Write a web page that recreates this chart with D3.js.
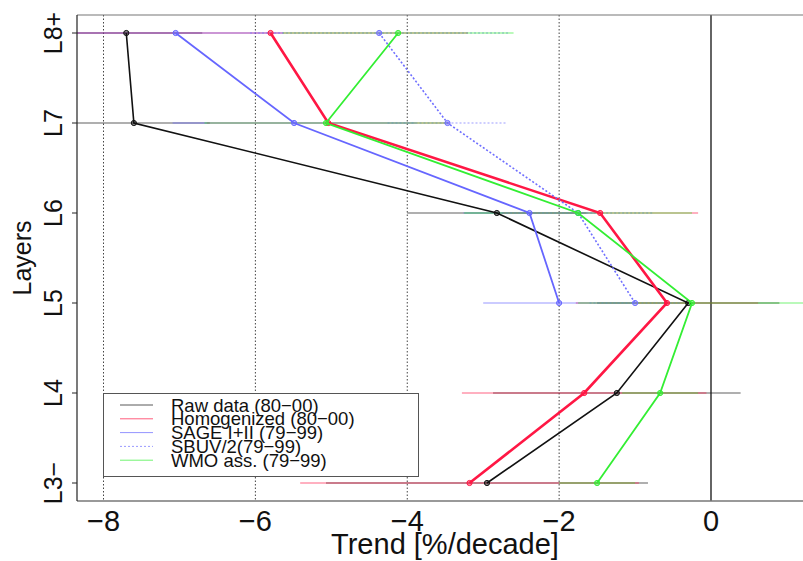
<!DOCTYPE html>
<html>
<head>
<meta charset="utf-8">
<script src="https://cdn.jsdelivr.net/npm/d3@7"></script>
<style>
  body { margin: 0; background: #fff; }
  text { font-family: "Liberation Sans", Arial, sans-serif; }
</style>
</head>
<body>
<div id="chart"></div>
<script>
// layers from top to bottom
const layers = ["L8+", "L7", "L6", "L5", "L4", "L3\u2212"];
const xTicks = [-8, -6, -4, -2, 0];

// trends [%/decade] per layer, and half-width of the error bar
const rawData = [-7.70, -7.60, -2.82, -0.30, -1.24, -2.95];
const rawErr = [1.0, 1.0, 1.18, 1.2, 1.63, 2.12];
const homog = [-5.80, -5.04, -1.46, -0.58, -1.67, -3.18];
const homogErr = [2.6, 1.6, 1.29, 1.2, 1.61, 2.23];
const sage = [-7.05, -5.49, -2.39, -2.00, null, null];
const sageErr = [1.42, 1.6, 0.87, 1.0, null, null];
const sbuv = [-4.37, -3.47, -1.75, -1.00, null, null];
const sbuvErr = [1.7, 0.79, 1.0, 0.6, null, null];
const wmo = [-4.12, -5.07, -1.75, -0.25, -0.67, -1.50];
const wmoErr = [1.52, 1.6, 1.5, 1.5, 0.5, 0.5];

const series = [
  {name: "Raw data (80\u221200)", vals: rawData, err: rawErr, color: "#111111", width: 1.6, dash: null},
  {name: "Homogenized (80\u221200)", vals: homog, err: homogErr, color: "#ff1744", width: 2.6, dash: null},
  {name: "SAGE I+II (79\u221299)", vals: sage, err: sageErr, color: "#6666ff", width: 1.8, dash: null},
  {name: "SBUV/2(79\u221299)", vals: sbuv, err: sbuvErr, color: "#6f6fff", width: 1.6, dash: "2,2"},
  {name: "WMO ass. (79\u221299)", vals: wmo, err: wmoErr, color: "#33ee33", width: 1.8, dash: null}
];

const width = 803, height = 561;
const plotLeft = 77, plotTop = 15, plotBottom = 501, plotRight = 830;

const svg = d3.select("#chart").append("svg")
  .attr("width", width)
  .attr("height", height);

const x = d3.scaleLinear().domain([-8, 0]).range([103.5, 711]);
const y = d3.scalePoint().domain(layers).range([33, 483]);

svg.append("clipPath").attr("id", "clip")
  .append("rect")
  .attr("x", plotLeft).attr("y", plotTop)
  .attr("width", plotRight - plotLeft).attr("height", plotBottom - plotTop);

// grid lines
svg.append("g")
  .selectAll("line")
  .data(xTicks)
  .join("line")
    .attr("x1", d => x(d)).attr("x2", d => x(d))
    .attr("y1", plotTop).attr("y2", plotBottom)
    .attr("stroke", d => d === 0 ? "#111" : "#444")
    .attr("stroke-width", d => d === 0 ? 1.3 : 1)
    .attr("stroke-dasharray", d => d === 0 ? null : "1.5,2");

const plot = svg.append("g").attr("clip-path", "url(#clip)");

// error bars
series.forEach(s => {
  const bars = s.vals.map((v, i) => ({v: v, e: s.err[i], layer: layers[i]}))
    .filter(d => d.v !== null);
  plot.append("g")
    .selectAll("line")
    .data(bars)
    .join("line")
      .attr("x1", d => x(d.v - d.e)).attr("x2", d => x(d.v + d.e))
      .attr("y1", d => y(d.layer)).attr("y2", d => y(d.layer))
      .attr("stroke", s.color)
      .attr("stroke-opacity", 0.45)
      .attr("stroke-width", 1.3)
      .attr("stroke-dasharray", s.dash);
});

// profiles
const line = d3.line()
  .defined(d => d.v !== null)
  .x(d => x(d.v))
  .y(d => y(d.layer));

series.forEach(s => {
  const pts = s.vals.map((v, i) => ({v: v, layer: layers[i]}));
  plot.append("path")
    .datum(pts)
    .attr("fill", "none")
    .attr("stroke", s.color)
    .attr("stroke-width", s.width)
    .attr("stroke-dasharray", s.dash)
    .attr("d", line);
  plot.append("g")
    .selectAll("circle")
    .data(pts.filter(d => d.v !== null))
    .join("circle")
      .attr("cx", d => x(d.v))
      .attr("cy", d => y(d.layer))
      .attr("r", 2.6)
      .attr("fill", s.color)
      .attr("fill-opacity", 0.5)
      .attr("stroke", s.color)
      .attr("stroke-width", 1);
});

// frame
svg.append("line")
  .attr("x1", plotLeft).attr("x2", width).attr("y1", plotTop).attr("y2", plotTop)
  .attr("stroke", "#777").attr("stroke-width", 1.2);
svg.append("line")
  .attr("x1", plotLeft).attr("x2", width).attr("y1", plotBottom).attr("y2", plotBottom)
  .attr("stroke", "#777").attr("stroke-width", 1.5);
svg.append("line")
  .attr("x1", plotLeft).attr("x2", plotLeft).attr("y1", plotTop).attr("y2", plotBottom)
  .attr("stroke", "#222").attr("stroke-width", 1.2);

// y axis ticks and labels
const yAxis = svg.append("g");
yAxis.selectAll("line")
  .data(layers)
  .join("line")
    .attr("x1", plotLeft - 5).attr("x2", plotLeft)
    .attr("y1", d => y(d)).attr("y2", d => y(d))
    .attr("stroke", "#222");
yAxis.selectAll("text")
  .data(layers)
  .join("text")
    .attr("transform", d => `translate(62,${y(d)}) rotate(-90)`)
    .attr("text-anchor", "middle")
    .attr("font-size", 25)
    .attr("fill", "#111")
    .text(d => d);

// x axis labels
svg.append("g")
  .selectAll("text")
  .data(xTicks)
  .join("text")
    .attr("x", d => x(d))
    .attr("y", 531)
    .attr("text-anchor", "middle")
    .attr("font-size", 29)
    .attr("fill", "#111")
    .text(d => d < 0 ? "\u2212" + Math.abs(d) : d);

svg.append("text")
  .attr("x", 445).attr("y", 554)
  .attr("text-anchor", "middle")
  .attr("font-size", 29)
  .attr("fill", "#111")
  .text("Trend [%/decade]");

svg.append("text")
  .attr("transform", "translate(31,258) rotate(-90)")
  .attr("text-anchor", "middle")
  .attr("font-size", 25)
  .attr("fill", "#111")
  .text("Layers");

// legend
const legend = svg.append("g");
legend.append("rect")
  .attr("x", 103.5).attr("y", 393.5)
  .attr("width", 315).attr("height", 83)
  .attr("fill", "#fff")
  .attr("stroke", "#555")
  .attr("stroke-width", 1);
const rows = legend.selectAll("g.row")
  .data(series)
  .join("g")
    .attr("class", "row")
    .attr("transform", (d, i) => `translate(0,${405 + i * 13.8})`);
rows.append("line")
  .attr("x1", 120).attr("x2", 153)
  .attr("stroke", d => d.color)
  .attr("stroke-opacity", 0.7)
  .attr("stroke-width", 1)
  .attr("stroke-dasharray", d => d.dash);
rows.append("text")
  .attr("x", 171).attr("y", 6.5)
  .attr("font-size", 18.5)
  .attr("fill", "#111")
  .text(d => d.name);
</script>
</body>
</html>
